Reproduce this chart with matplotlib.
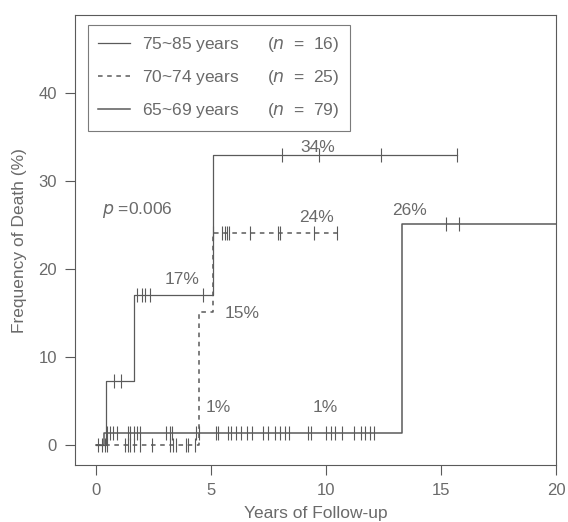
"""Cumulative frequency of death by age group (Kaplan-Meier style step chart)."""
import matplotlib
matplotlib.use("Agg")
import matplotlib.pyplot as plt

plt.rcParams["font.family"] = ["Liberation Sans", "DejaVu Sans"]

GRAY = "#5a5a5a"
TXT = "#6a6a6a"

# ---------------------------------------------------------------------------
# Data (years, cumulative % dead)
# ---------------------------------------------------------------------------
labels = [r"75~85 years      ($n$  =  16)",
          r"70~74 years      ($n$  =  25)",
          r"65~69 years      ($n$  =  79)"]

old_t = [0, 0.45, 1.65, 5.1, 15.7]
old_y = [0, 7.3, 17.0, 33.0, 33.0]
old_cens_t = [0.8, 1.1, 1.8, 2.0, 2.15, 2.35, 4.65, 8.1, 9.7, 12.4, 15.7]

mid_t = [0, 4.5, 5.1, 10.6]
mid_y = [0, 15.1, 24.1, 24.1]
mid_cens_t = [0.1, 0.25, 0.4, 0.5, 1.25, 1.4, 1.5, 1.65, 1.9, 2.45, 3.2, 3.35,
              3.5, 3.9, 4.0, 4.3, 5.1, 5.5, 5.6, 5.7, 5.8, 6.7, 7.9, 8.0, 9.5,
              10.5]

young_t = [0, 0.35, 13.3, 20.0]
young_y = [0, 1.3, 25.1, 25.1]
young_cens_t = [0.5, 0.6, 0.75, 0.9, 1.4, 1.5, 1.65, 1.8, 1.9, 3.05, 3.2, 3.3,
                4.35, 4.5, 5.2, 5.3, 5.75, 5.85, 6.1, 6.3, 6.55, 6.8, 7.25, 7.5,
                7.8, 8.0, 8.2, 8.4, 9.2, 9.35, 10.0, 10.2, 10.4, 10.7, 11.2,
                11.5, 11.7, 11.9, 12.1, 15.2, 15.8]

pct_labels = ["34%", "24%", "26%", "17%", "15%", "1%", "1%"]
pct_x = [9.65, 9.6, 13.65, 3.75, 6.35, 5.3, 9.95]
pct_y = [33.8, 25.9, 26.7, 18.8, 15.0, 4.3, 4.3]


def step_value(ts, ys, t):
    v = ys[0]
    for ti, yi in zip(ts, ys):
        if ti <= t:
            v = yi
    return v


fig = plt.figure(figsize=(5.68, 5.22), dpi=100)
ax = fig.add_axes([0.132, 0.109, 0.847, 0.862])

series = [
    (old_t, old_y, old_cens_t, "-", 0.9),
    (mid_t, mid_y, mid_cens_t, (0, (3, 3)), 1.1),
    (young_t, young_y, young_cens_t, "-", 1.1),
]
for (ts, ys, cens, ls, lw), lab in zip(series, labels):
    ax.step(ts, ys, where="post", color=GRAY, linestyle=ls, linewidth=lw,
            label=lab)
    cy = [step_value(ts, ys, c) for c in cens]
    ax.plot(cens, cy, linestyle="none", marker="|", markersize=10,
            markeredgewidth=0.8, color=GRAY)

for s, x, y in zip(pct_labels, pct_x, pct_y):
    ax.text(x, y, s, ha="center", va="center", fontsize=12.5, color=TXT)

ax.text(0.25, 26.7, r"$p$ =0.006", ha="left", va="center", fontsize=12.5,
        color=TXT)

ax.set_xlim(-0.91, 20)
ax.set_ylim(-2.3, 48.9)
ax.set_xticks([0, 5, 10, 15, 20])
ax.set_yticks([0, 10, 20, 30, 40])
ax.tick_params(direction="out", length=7, width=0.8, colors=GRAY,
               labelcolor=TXT, labelsize=12, pad=6)
for sp in ax.spines.values():
    sp.set_color(GRAY)
    sp.set_linewidth(0.8)

ax.set_xlabel("Years of Follow-up", fontsize=12.5, color=TXT, labelpad=6)
ax.set_ylabel("Frequency of Death (%)", fontsize=12.5, color=TXT, labelpad=8)

leg = ax.legend(loc="upper left", bbox_to_anchor=(0.027, 0.978),
                borderaxespad=0, fancybox=False, fontsize=12.5,
                handlelength=1.8, handletextpad=0.7, labelspacing=0.8,
                borderpad=0.6, labelcolor=TXT)
leg.get_frame().set_edgecolor(GRAY)
leg.get_frame().set_linewidth(0.8)

fig.savefig("out.png", dpi=100)
